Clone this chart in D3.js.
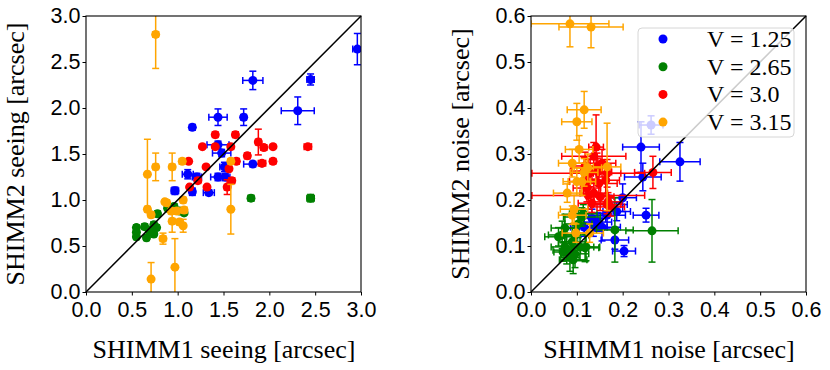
<!DOCTYPE html>
<html>
<head>
<meta charset="utf-8">
<script src="https://cdn.jsdelivr.net/npm/d3@7"></script>
<style>
  body { margin: 0; background: #fff; }
  svg { font-family: "Liberation Serif", "DejaVu Serif", serif; }
  .tick text { font-size: 21.5px; fill: #000; }
  .tick line { stroke: #000; }
  .domain { display: none; }
</style>
</head>
<body>
<svg id="chart" width="830" height="370"></svg>
<script>
// each point: [x, y, xerr, yerr]
const seeingV125 = [
  [2.96, 2.64, 0.05, 0.17], [1.82, 2.30, 0.11, 0.10], [2.45, 2.31, 0.04, 0.06],
  [2.31, 1.97, 0.18, 0.15], [1.44, 1.90, 0.10, 0.09], [1.72, 1.90, 0.03, 0.09],
  [1.16, 1.79, 0.03, 0.03], [1.44, 1.60, 0.12, 0.04], [1.48, 1.51, 0.10, 0.04],
  [1.51, 1.36, 0.05, 0.05], [1.11, 1.28, 0.06, 0.05], [1.21, 1.25, 0.05, 0.04],
  [1.44, 1.25, 0.08, 0.04], [1.52, 1.25, 0.05, 0.04], [0.97, 1.10, 0.04, 0.04],
  [1.16, 1.09, 0.03, 0.04], [1.34, 1.08, 0.06, 0.03], [1.82, 1.39, 0.10, 0.03]
];
const seeingV265 = [
  [0.55, 0.70, 0.02, 0.03], [0.55, 0.60, 0.02, 0.03], [0.55, 0.65, 0.02, 0.02],
  [0.64, 0.71, 0.02, 0.03], [0.66, 0.59, 0.02, 0.03], [0.74, 0.73, 0.03, 0.03],
  [0.77, 0.70, 0.02, 0.03], [0.78, 0.85, 0.02, 0.03], [0.74, 0.63, 0.02, 0.02],
  [0.69, 0.67, 0.02, 0.02], [0.89, 0.91, 0.02, 0.02], [0.96, 0.93, 0.02, 0.03],
  [1.07, 0.86, 0.02, 0.02], [1.02, 0.88, 0.02, 0.02], [1.80, 1.02, 0.03, 0.03],
  [2.45, 1.02, 0.04, 0.04]
];
const seeingV300 = [
  [1.41, 1.71, 0.02, 0.03], [1.63, 1.71, 0.03, 0.03], [1.27, 1.58, 0.02, 0.02],
  [1.41, 1.58, 0.02, 0.02], [1.58, 1.58, 0.02, 0.03], [1.88, 1.63, 0.03, 0.14],
  [1.94, 1.57, 0.03, 0.03], [2.04, 1.58, 0.02, 0.02], [2.42, 1.58, 0.04, 0.02],
  [1.12, 1.42, 0.02, 0.02], [1.64, 1.42, 0.03, 0.03], [1.76, 1.48, 0.03, 0.03],
  [1.92, 1.40, 0.04, 0.02], [2.04, 1.42, 0.03, 0.02], [1.31, 1.36, 0.02, 0.02],
  [1.56, 1.34, 0.02, 0.02], [1.22, 1.21, 0.03, 0.02], [1.13, 1.14, 0.02, 0.02],
  [1.32, 1.14, 0.02, 0.02], [1.59, 1.21, 0.03, 0.03], [1.54, 1.14, 0.03, 0.08]
];
const seeingV315 = [
  [0.76, 2.80, 0.03, 0.37], [0.67, 1.28, 0.02, 0.38], [0.76, 1.36, 0.03, 0.15],
  [0.94, 1.36, 0.03, 0.15], [1.05, 1.42, 0.03, 0.03], [0.67, 0.90, 0.02, 0.03],
  [0.71, 0.84, 0.02, 0.03], [0.84, 0.58, 0.03, 0.06], [0.71, 0.14, 0.02, 0.18],
  [0.97, 0.27, 0.02, 0.31], [0.88, 0.97, 0.02, 0.03], [0.93, 0.88, 0.02, 0.03],
  [0.94, 0.77, 0.03, 0.12], [1.02, 0.76, 0.02, 0.03], [1.06, 0.72, 0.02, 0.07],
  [1.06, 1.00, 0.02, 0.03], [0.99, 0.88, 0.02, 0.03], [1.07, 0.89, 0.03, 0.03],
  [1.58, 1.42, 0.02, 0.03], [1.58, 0.90, 0.02, 0.27], [0.86, 0.98, 0.02, 0.02]
];

const noiseV125 = [
  [0.262, 0.363, 0.026, 0.020], [0.240, 0.315, 0.040, 0.055], [0.325, 0.283, 0.044, 0.042],
  [0.244, 0.250, 0.040, 0.030], [0.200, 0.205, 0.030, 0.030], [0.187, 0.175, 0.030, 0.020],
  [0.251, 0.167, 0.028, 0.015], [0.183, 0.113, 0.030, 0.020], [0.203, 0.089, 0.025, 0.012],
  [0.155, 0.141, 0.040, 0.030], [0.136, 0.141, 0.030, 0.020], [0.146, 0.152, 0.030, 0.020],
  [0.166, 0.167, 0.040, 0.030], [0.116, 0.141, 0.030, 0.020], [0.133, 0.160, 0.030, 0.020],
  [0.170, 0.190, 0.040, 0.020]
];
const noiseV265 = [
  [0.264, 0.133, 0.057, 0.068], [0.183, 0.135, 0.040, 0.070], [0.068, 0.124, 0.030, 0.030],
  [0.096, 0.124, 0.030, 0.020], [0.074, 0.098, 0.030, 0.030], [0.090, 0.109, 0.030, 0.030],
  [0.107, 0.098, 0.030, 0.030], [0.070, 0.087, 0.020, 0.020], [0.096, 0.083, 0.030, 0.030],
  [0.118, 0.096, 0.030, 0.030], [0.111, 0.163, 0.040, 0.020], [0.103, 0.148, 0.030, 0.030],
  [0.074, 0.139, 0.030, 0.030], [0.092, 0.070, 0.030, 0.030], [0.114, 0.170, 0.030, 0.020],
  [0.120, 0.098, 0.030, 0.030], [0.078, 0.091, 0.030, 0.030], [0.060, 0.120, 0.030, 0.020],
  [0.085, 0.075, 0.020, 0.030]
];
const noiseV300 = [
  [0.142, 0.315, 0.016, 0.070], [0.137, 0.295, 0.070, 0.030], [0.118, 0.274, 0.030, 0.030],
  [0.144, 0.272, 0.030, 0.030], [0.116, 0.263, 0.030, 0.030], [0.129, 0.259, 0.040, 0.030],
  [0.146, 0.261, 0.030, 0.030], [0.166, 0.258, 0.030, 0.030], [0.114, 0.240, 0.030, 0.030],
  [0.148, 0.236, 0.040, 0.030], [0.163, 0.243, 0.030, 0.030], [0.266, 0.260, 0.040, 0.035],
  [0.125, 0.258, 0.123, 0.030], [0.125, 0.210, 0.123, 0.030], [0.122, 0.226, 0.030, 0.030],
  [0.137, 0.215, 0.030, 0.030], [0.151, 0.207, 0.030, 0.030], [0.133, 0.193, 0.030, 0.020],
  [0.168, 0.196, 0.030, 0.020], [0.174, 0.185, 0.030, 0.020], [0.166, 0.190, 0.030, 0.020],
  [0.155, 0.280, 0.030, 0.030]
];
const noiseV315 = [
  [0.085, 0.583, 0.085, 0.050], [0.131, 0.576, 0.070, 0.045], [0.116, 0.396, 0.037, 0.040],
  [0.100, 0.370, 0.033, 0.040], [0.105, 0.310, 0.030, 0.030], [0.090, 0.280, 0.030, 0.030],
  [0.166, 0.272, 0.030, 0.095], [0.124, 0.270, 0.030, 0.030], [0.116, 0.260, 0.030, 0.030],
  [0.100, 0.240, 0.030, 0.030], [0.079, 0.215, 0.030, 0.020], [0.094, 0.180, 0.030, 0.030],
  [0.090, 0.167, 0.030, 0.020], [0.098, 0.128, 0.030, 0.020], [0.128, 0.128, 0.030, 0.020],
  [0.111, 0.240, 0.030, 0.030]
];

const legendLabels = ['V = 1.25', 'V = 2.65', 'V = 3.0', 'V = 3.15'];
const colors = ['#0000ff', '#008000', '#ff0000', '#ffa500'];
const seeingTicks = [0, 0.5, 1.0, 1.5, 2.0, 2.5, 3.0];
const noiseTicks = [0, 0.1, 0.2, 0.3, 0.4, 0.5, 0.6];

const svg = d3.select('#chart');
const size = 276;
const plotTop = 16;

function panel(id, left, maxV, ticks, series, xLabel, yLabel, showLegend) {
  const x = d3.scaleLinear().domain([0, maxV]).range([left, left + size - 1]);
  const y = d3.scaleLinear().domain([0, maxV]).range([plotTop + size, plotTop]);

  svg.append('clipPath').attr('id', 'clip' + id)
    .append('rect').attr('x', left).attr('y', plotTop).attr('width', size - 1).attr('height', size);

  const plot = svg.append('g').attr('clip-path', `url(#clip${id})`);

  series.forEach((data, i) => {
    const c = colors[i];
    const g = plot.append('g').attr('stroke', c).attr('stroke-width', 1.5).attr('fill', 'none');
    data.forEach(d => {
      const [vx, vy, ex, ey] = d;
      const cx = x(vx), cy = y(vy);
      // horizontal err
      g.append('line').attr('x1', x(vx - ex)).attr('x2', x(vx + ex)).attr('y1', cy).attr('y2', cy);
      g.append('line').attr('x1', x(vx - ex)).attr('x2', x(vx - ex)).attr('y1', cy - 3.5).attr('y2', cy + 3.5);
      g.append('line').attr('x1', x(vx + ex)).attr('x2', x(vx + ex)).attr('y1', cy - 3.5).attr('y2', cy + 3.5);
      // vertical err
      g.append('line').attr('x1', cx).attr('x2', cx).attr('y1', y(vy - ey)).attr('y2', y(vy + ey));
      g.append('line').attr('x1', cx - 3.5).attr('x2', cx + 3.5).attr('y1', y(vy - ey)).attr('y2', y(vy - ey));
      g.append('line').attr('x1', cx - 3.5).attr('x2', cx + 3.5).attr('y1', y(vy + ey)).attr('y2', y(vy + ey));
    });
    plot.append('g').selectAll('circle').data(data).enter().append('circle')
      .attr('cx', d => x(d[0])).attr('cy', d => y(d[1])).attr('r', 4.5).attr('fill', c);
  });

  // 1:1 line
  svg.append('line').attr('x1', x(0)).attr('y1', y(0)).attr('x2', x(maxV)).attr('y2', y(maxV))
    .attr('stroke', '#000').attr('stroke-width', 1.5);

  const fmt = d3.format('.1f');
  svg.append('g').attr('transform', `translate(0,${plotTop + size})`)
    .call(d3.axisBottom(x).tickValues(ticks).tickFormat(fmt).tickSize(3.5).tickPadding(6));
  svg.append('g').attr('transform', `translate(${left},0)`)
    .call(d3.axisLeft(y).tickValues(ticks).tickFormat(fmt).tickSize(3.5).tickPadding(2));

  svg.append('rect').attr('x', left).attr('y', plotTop).attr('width', size - 1).attr('height', size)
    .attr('fill', 'none').attr('stroke', '#000').attr('stroke-width', 1.1);

  svg.append('text').attr('x', left + size / 2).attr('y', 358).attr('text-anchor', 'middle')
    .attr('font-size', 26).text(xLabel);
  svg.append('text').attr('transform', `translate(${left - 62},${plotTop + size / 2}) rotate(-90)`)
    .attr('text-anchor', 'middle').attr('font-size', 26).text(yLabel);

  if (showLegend) {
    const lg = svg.append('g');
    lg.append('rect').attr('x', 638).attr('y', 28).attr('width', 156).attr('height', 109).attr('rx', 4)
      .attr('fill', 'rgba(255,255,255,0.8)').attr('stroke', '#d6d6d6').attr('stroke-width', 1);
    legendLabels.forEach((lab, i) => {
      const cy = 39 + i * 27.7;
      lg.append('circle').attr('cx', 663).attr('cy', cy).attr('r', 4.5).attr('fill', colors[i]);
      lg.append('text').attr('x', 707).attr('y', cy + 8).attr('font-size', 24).text(lab);
    });
  }
}

panel('L', 86, 3.0, seeingTicks, [seeingV125, seeingV265, seeingV300, seeingV315],
  'SHIMM1 seeing [arcsec]', 'SHIMM2 seeing [arcsec]', false);
panel('R', 531, 0.6, noiseTicks, [noiseV125, noiseV265, noiseV300, noiseV315],
  'SHIMM1 noise [arcsec]', 'SHIMM2 noise [arcsec]', true);
</script>
</body>
</html>
